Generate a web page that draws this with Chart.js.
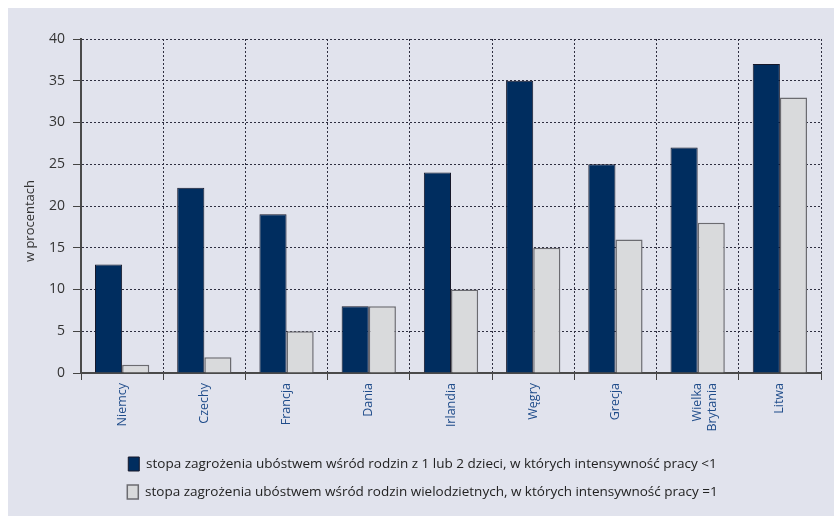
<!DOCTYPE html>
<html>
<head>
<meta charset="utf-8">
<script src="https://cdn.jsdelivr.net/npm/chart.js@4.4.1/dist/chart.umd.min.js"></script>
<style>
  html, body { margin: 0; padding: 0; background: #ffffff; }
  #panel { position: absolute; left: 8px; top: 8px; width: 826px; height: 508px; background: #e1e3ed; }
</style>
</head>
<body>
<div id="panel"><canvas id="c"></canvas></div>
<script>
// Kraje
const countries = ['Niemcy', 'Czechy', 'Francja', 'Dania', 'Irlandia', 'Węgry', 'Grecja', ['Wielka', 'Brytania'], 'Litwa'];
// Rodziny z 1 lub 2 dzieci, intensywność pracy < 1 (%)
const smallFamilies = [13, 22.2, 19, 8, 24, 35, 25, 27, 37];
// Rodziny wielodzietne, intensywność pracy = 1 (%)
const largeFamilies = [1, 1.9, 5, 8, 10, 15, 16, 18, 33];
// Oś wartości
const yMin = 0, yMax = 40, yStep = 5;

const seriesLabels = [
  'stopa zagrożenia ubóstwem wśród rodzin z 1 lub 2 dzieci, w których intensywność pracy <1',
  'stopa zagrożenia ubóstwem wśród rodzin wielodzietnych, w których intensywność pracy =1'
];
const axisTitle = 'w procentach';
const FONT = '"Open Sans", "DejaVu Sans", sans-serif';

// Pionowy tytuł osi Y
const yTitlePlugin = {
  id: 'yTitle',
  afterDraw(chart) {
    const ctx = chart.ctx;
    ctx.save();
    ctx.translate(22, 213);
    ctx.rotate(-Math.PI / 2);
    ctx.font = '13px ' + FONT;
    ctx.fillStyle = '#333333';
    ctx.textAlign = 'center';
    ctx.textBaseline = 'middle';
    ctx.fillText(axisTitle, 0, 0);
    ctx.restore();
  }
};

new Chart(document.getElementById('c'), {
  type: 'bar',
  data: {
    labels: countries,
    datasets: [
      {
        label: seriesLabels[0],
        data: smallFamilies,
        backgroundColor: '#002d5f',
        borderColor: '#16182a',
        borderWidth: 1
      },
      {
        label: seriesLabels[1],
        data: largeFamilies,
        backgroundColor: '#d9dadc',
        borderColor: '#6b6b70',
        borderWidth: 1.5
      }
    ]
  },
  options: {
    responsive: true,
    maintainAspectRatio: false,
    animation: false,
    datasets: { bar: { categoryPercentage: 0.66, barPercentage: 1 } },
    layout: { padding: { top: 31, right: 13, left: 16, bottom: 7 } },
    plugins: {
      tooltip: { enabled: false },
      legend: {
        position: 'bottom',
        labels: {
          boxWidth: 11,
          boxHeight: 14,
          padding: 14,
          color: '#222222',
          font: { family: FONT, size: 13.5 }
        }
      }
    },
    scales: {
      x: {
        afterFit(scale) { scale.height = 70; },
        grid: {
          offset: true,
          color: '#2e2e40',
          lineWidth: 1,
          tickBorderDash: [],
          tickColor: '#444444',
          tickLength: 7
        },
        border: { display: true, color: '#4a4a4a', width: 2, dash: [2, 2] },
        ticks: {
          autoSkip: false,
          minRotation: 90,
          maxRotation: 90,
          padding: 3,
          color: '#1f4c8a',
          font: { family: FONT, size: 12.5 }
        }
      },
      y: {
        min: yMin,
        max: yMax,
        afterFit(scale) { scale.width = 57; },
        grid: {
          color: '#2e2e40',
          lineWidth: 1,
          tickBorderDash: [],
          tickColor: '#444444',
          tickLength: 8
        },
        border: { display: true, color: '#4a4a4a', width: 2, dash: [2, 2] },
        ticks: {
          stepSize: yStep,
          padding: 8,
          color: '#333333',
          font: { family: FONT, size: 14 }
        }
      }
    }
  },
  plugins: [yTitlePlugin]
});
</script>
</body>
</html>
